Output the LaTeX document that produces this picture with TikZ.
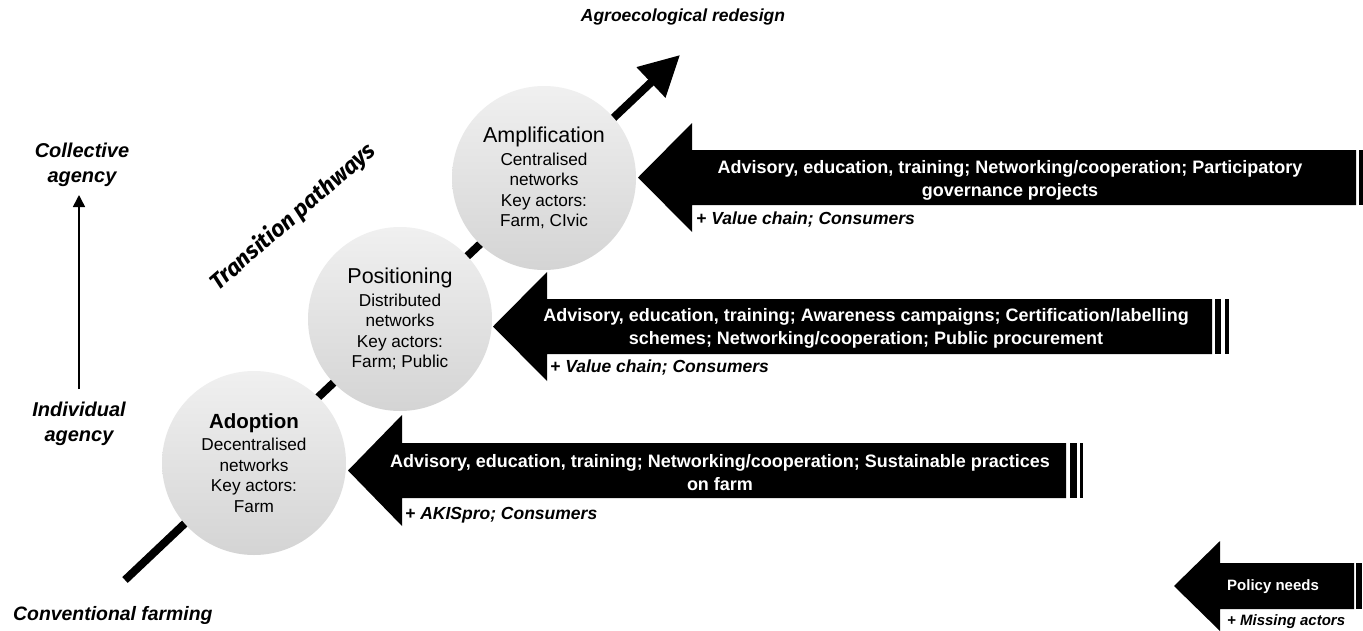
\documentclass[tikz,border=0pt]{standalone}
\usepackage{fontspec}
\setmainfont{Liberation Sans}
\newfontfamily\tpfont{Fira Sans}
\usetikzlibrary{arrows.meta}
\definecolor{circtop}{RGB}{240,240,240}
\definecolor{circbot}{RGB}{212,212,212}
\begin{document}
\begin{tikzpicture}[x=1pt,y=-1pt,
  circ/.style={circle, minimum size=184pt, inner sep=0pt, top color=circtop, bottom color=circbot, draw=none, align=center, text=black, font=\fontsize{17.2}{20.5}\selectfont},
  bigarrow/.style={fill=black},
  arrtext/.style={text=white, font=\bfseries\fontsize{18}{23}\selectfont, align=center, inner sep=0pt},
  plus/.style={font=\bfseries\itshape\fontsize{17.5}{20}\selectfont, anchor=west, inner sep=0pt},
  lab/.style={font=\bfseries\itshape\fontsize{17.5}{24}\selectfont, align=center, inner sep=0pt},
]
\fill[white] (0,0) rectangle (1363,630);
\useasboundingbox (0,0) rectangle (1363,630);

% vertical agency arrow
\node[lab, font=\bfseries\itshape\fontsize{20}{25}\selectfont] (coll) at (82,165) {Collective\\agency};
\node[lab, font=\bfseries\itshape\fontsize{20}{25}\selectfont] (indiv) at (79,424) {Individual\\agency};
\coordinate (vb) at (79,389);
\coordinate (vt) at (79,195);
\draw[line width=1.5pt, -{Triangle[length=12pt,width=12pt]}] (vb) -- (vt);

% diagonal transition arrow
\coordinate (dstart) at (125,580);
\coordinate (dend) at (680,55);
\draw[line width=8pt, -{Triangle[length=40pt,width=40pt]}] (dstart) -- (dend);

\node[lab] (agro) at (683,17) {Agroecological redesign};
\node[lab, anchor=west, font=\bfseries\itshape\fontsize{19.4}{24}\selectfont] (conv) at (13,615) {Conventional farming};
\node[rotate=41, font=\tpfont\bfseries\itshape\fontsize{23}{26}\selectfont, inner sep=0pt] (tp) at (293,217) {Transition pathways};

% circles
\node[circ] (ado) at (254,463) {{\bfseries\fontsize{20.5}{23}\selectfont Adoption}\\[2pt]Decentralised\\networks\\Key actors:\\Farm};
\node[circ] (pos) at (400,319) {{\fontsize{21.5}{23}\selectfont Positioning}\\[2pt]Distributed\\networks\\Key actors:\\Farm; Public};
\node[circ] (amp) at (544,178) {{\fontsize{21.5}{23}\selectfont Amplification}\\[2pt]Centralised\\networks\\Key actors:\\Farm, CIvic};

% big arrows
\fill[bigarrow] (638,177.5) -- (692,123) -- (692,150) -- (1356,150) -- (1356,205) -- (692,205) -- (692,232) -- cycle;
\fill[bigarrow] (1359,150) rectangle (1366,205);
\fill[bigarrow] (493,326.5) -- (547,272) -- (547,299) -- (1212,299) -- (1212,354) -- (547,354) -- (547,381) -- cycle;
\fill[bigarrow] (1215,299) rectangle (1221,354);
\fill[bigarrow] (1225,299) rectangle (1229,354);
\fill[bigarrow] (348,470.5) -- (402,415) -- (402,443) -- (1066,443) -- (1066,498) -- (402,498) -- (402,526) -- cycle;
\fill[bigarrow] (1070,443) rectangle (1077,498);
\fill[bigarrow] (1080,443) rectangle (1083,498);
\fill[bigarrow] (1174,586) -- (1220,541) -- (1220,563) -- (1354,563) -- (1354,609) -- (1220,609) -- (1220,631) -- cycle;
\fill[bigarrow] (1356,563) rectangle (1362,609);

% arrow texts
\node[arrtext] (tamp) at (1010,180) {Advisory, education, training; Networking/cooperation; Participatory\\governance projects};
\node[arrtext] (tpos) at (866,328) {Advisory, education, training; Awareness campaigns; Certification/labelling\\schemes; Networking/cooperation; Public procurement};
\node[arrtext] (tado) at (720,473) {Advisory, education, training; Networking/cooperation; Sustainable practices\\on farm};
\node[arrtext, font=\bfseries\fontsize{15}{18}\selectfont] (tpol) at (1273,587) {Policy needs};

% plus labels
\node[plus] (pamp) at (696,220) {+ Value chain; Consumers};
\node[plus] (ppos) at (550,368) {+ Value chain; Consumers};
\node[plus] (pado) at (405,515) {+ AKISpro; Consumers};
\node[plus, font=\bfseries\itshape\fontsize{15}{18}\selectfont] (ppol) at (1227,622) {+ Missing actors};
\end{tikzpicture}
\end{document}
